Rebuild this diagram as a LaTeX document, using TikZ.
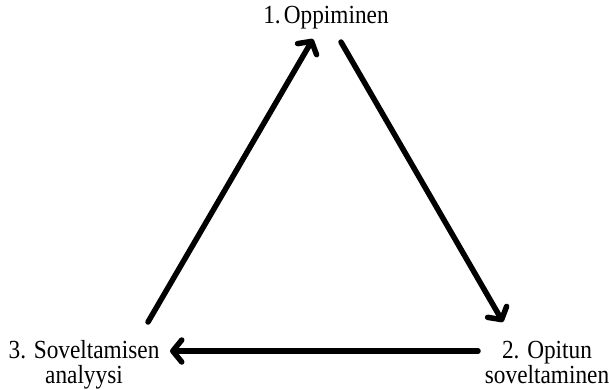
\documentclass[tikz,border=0pt]{standalone}
\usepackage{fontspec}
\usepackage{graphicx}
\setmainfont{Liberation Serif}
\usetikzlibrary{arrows.meta}
\newcommand{\vstr}[1]{\scalebox{1}[1.12]{#1}}
\begin{document}
\begin{tikzpicture}[x=1pt,y=-1pt,
  lbl/.style={font=\fontsize{23.3}{25}\selectfont, align=center, inner sep=0pt},
  conn/.style={line width=5.5pt, line cap=round,
    -{Straight Barb[length=9pt,width=22pt,line width=5.5pt,round]}}]
\useasboundingbox (0,0) rectangle (609,389);
\node[lbl, anchor=base] (n1) at (326,23) {\vstr{1.\kern3pt Oppiminen}};
\node[lbl, anchor=base] (n2) at (547,383) {\vstr{2. Opitun}\\\vstr{soveltaminen}};
\node[lbl, anchor=base] (n3) at (84,383) {\vstr{3. Soveltamisen}\\\vstr{analyysi}};
\coordinate (t1) at (148,322);
\coordinate (h1) at (313,39);
\coordinate (t2) at (341,42);
\coordinate (h2) at (503,322);
\coordinate (t3) at (478,351);
\coordinate (h3) at (170,351);
\draw[conn] (t1) -- (h1);
\draw[conn] (t2) -- (h2);
\draw[conn] (t3) -- (h3);
\end{tikzpicture}
\end{document}
